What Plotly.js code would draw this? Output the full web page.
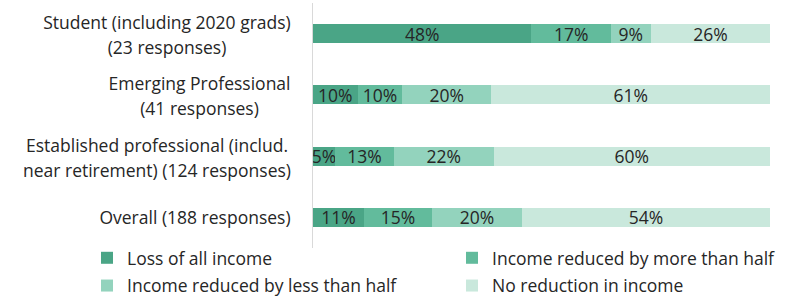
<!DOCTYPE html>
<html>
<head>
<meta charset="utf-8">
<script src="https://cdn.plot.ly/plotly-3.0.1.min.js"></script>
<style>html,body{margin:0;padding:0;background:#fff;}#chart{width:788px;height:296px;}</style>
</head>
<body>
<div id="chart"></div>
<script>
const categoryLines = [
  ["Student (including 2020 grads)", "(23 responses)"],
  ["Emerging Professional", "(41 responses)"],
  ["Established professional (includ.", "near retirement) (124 responses)"],
  ["Overall (188 responses)"]
];
const seriesNames = [
  "Loss of all income",
  "Income reduced by more than half",
  "Income reduced by less than half",
  "No reduction in income"
];
const lossAll      = [47.8,  9.76,  4.84, 11.17];
const reducedMore  = [17.4,  9.76, 12.90, 14.89];
const reducedLess  = [ 8.7, 19.51, 21.77, 19.68];
const noReduction  = [26.1, 60.98, 60.48, 54.26];
const colors = ["#4aa586", "#62bb9c", "#93d3bd", "#c9e8dc"];
const legendIds = ["legend", "legend2", "legend", "legend2"];

const FONT = "'Open Sans', sans-serif";
const FS = 17.5;
const series = [lossAll, reducedMore, reducedLess, noReduction];
const ids = categoryLines.map((c, i) => "c" + i);

const traces = series.map((vals, k) => ({
  type: "bar",
  orientation: "h",
  name: seriesNames[k],
  legend: legendIds[k],
  legendgroup: "g" + k,
  x: vals,
  y: ids,
  marker: {color: colors[k], line: {width: 0}},
  texttemplate: "%{x:.0f}%",
  textposition: "inside",
  insidetextanchor: "middle",
  constraintext: "none",
  textfont: {family: FONT, size: FS, color: "#262626"},
  hoverinfo: "skip"
}));

const ctx = document.createElement("canvas").getContext("2d");
ctx.font = FS + "px 'Open Sans'";
const annotations = [];
categoryLines.forEach((lines, i) => {
  const w = Math.ceil(Math.max(...lines.map(l => ctx.measureText(l).width))) + 2;
  const shifts = lines.length === 2 ? [11.5, -13.5] : [0];
  lines.forEach((l, j) => {
    annotations.push({
      text: l,
      xref: "paper", yref: "y",
      x: 0, y: ids[i],
      xanchor: "right", yanchor: "middle",
      xshift: -19, yshift: shifts[j],
      width: w,
      align: "center",
      showarrow: false,
      font: {family: FONT, size: FS, color: "#262626"}
    });
  });
});

const legendBase = {
  orientation: "v",
  y: 0.033, yanchor: "top",
  xanchor: "left",
  traceorder: "grouped",
  tracegroupgap: 2,
  font: {family: FONT, size: FS, color: "#262626"},
  itemclick: false,
  bgcolor: "rgba(0,0,0,0)"
};

const layout = {
  width: 788, height: 296,
  margin: {l: 313, r: 18, t: 3, b: 48, autoexpand: false},
  paper_bgcolor: "#ffffff",
  plot_bgcolor: "#ffffff",
  barmode: "stack",
  bargap: 0.69,
  showlegend: true,
  legend: Object.assign({}, legendBase, {x: -0.4945}),
  legend2: Object.assign({}, legendBase, {x: 0.3042}),
  xaxis: {
    range: [0, 100],
    showgrid: false, zeroline: false, showticklabels: false,
    showline: false, fixedrange: true
  },
  yaxis: {
    type: "category",
    categoryorder: "array",
    categoryarray: ids,
    range: [3.5, -0.5],
    showticklabels: false,
    showgrid: false, zeroline: false,
    showline: true, linecolor: "#d9d9d9", linewidth: 1.5,
    ticks: "", fixedrange: true
  },
  annotations: annotations,
  font: {family: FONT}
};

Plotly.newPlot("chart", traces, layout, {displayModeBar: false, staticPlot: true});
</script>
</body>
</html>
